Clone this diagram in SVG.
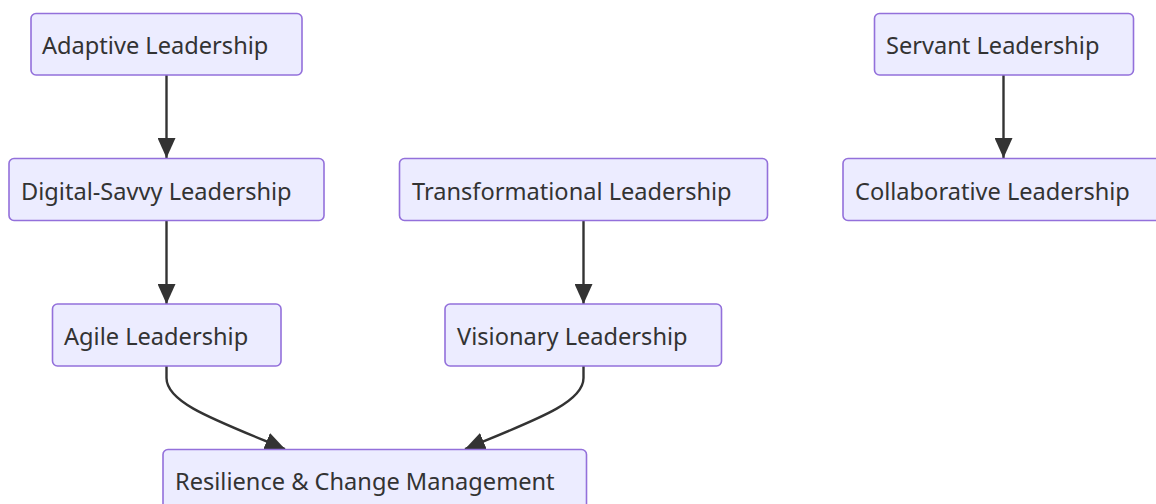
<svg xmlns="http://www.w3.org/2000/svg" width="1156" height="504" viewBox="0 0 1156 504">
<style>
.node rect{fill:#ECECFF;stroke:#9370DB;stroke-width:1.6}
.node text{font-family:"Noto Sans","Open Sans",sans-serif;font-size:23.6px;fill:#333}
.edge{fill:none;stroke:#333;stroke-width:2.4}
</style>
<defs>
<marker id="arr" viewBox="0 0 20 18" refX="20" refY="9" markerWidth="20" markerHeight="18" markerUnits="userSpaceOnUse" orient="auto">
<path d="M0,0 L20,9 L0,18 z" fill="#333"/>
</marker>
</defs>
<rect width="1156" height="504" fill="#fff"/>
<g id="connectors">
<path class="edge" d="M166.5,75 V158" marker-end="url(#arr)"/>
<path class="edge" d="M166.5,221 V304" marker-end="url(#arr)"/>
<path class="edge" d="M583.5,221 V304" marker-end="url(#arr)"/>
<path class="edge" d="M1003.5,75 V158" marker-end="url(#arr)"/>
<path class="edge" d="M166.5,366 V378 C166.5,403 215,420 285,449" marker-end="url(#arr)"/>
<path class="edge" d="M583.5,366 V378 C583.5,403 535,420 465,449" marker-end="url(#arr)"/>
</g>
<g id="adaptive" class="node"><rect x="31" y="13.5" width="271" height="61.5" rx="5"/><text x="42" y="54">Adaptive Leadership</text></g>
<g id="servant" class="node"><rect x="874.5" y="13.5" width="259" height="61.5" rx="5"/><text x="886" y="54">Servant Leadership</text></g>
<g id="digital" class="node"><rect x="9" y="158.5" width="315" height="62" rx="5"/><text x="21" y="199.5">Digital-Savvy Leadership</text></g>
<g id="transformational" class="node"><rect x="399.5" y="158.5" width="368" height="62" rx="5"/><text x="412" y="199.5">Transformational Leadership</text></g>
<g id="collaborative" class="node"><rect x="843" y="158.5" width="320" height="62" rx="5"/><text x="855" y="199.5">Collaborative Leadership</text></g>
<g id="agile" class="node"><rect x="52.5" y="304" width="228.5" height="62" rx="5"/><text x="64" y="345">Agile Leadership</text></g>
<g id="visionary" class="node"><rect x="445" y="304" width="276.5" height="62" rx="5"/><text x="457" y="345">Visionary Leadership</text></g>
<g id="resilience" class="node"><rect x="163" y="449.5" width="423.5" height="62" rx="5"/><text x="175" y="490">Resilience &amp; Change Management</text></g>
</svg>
